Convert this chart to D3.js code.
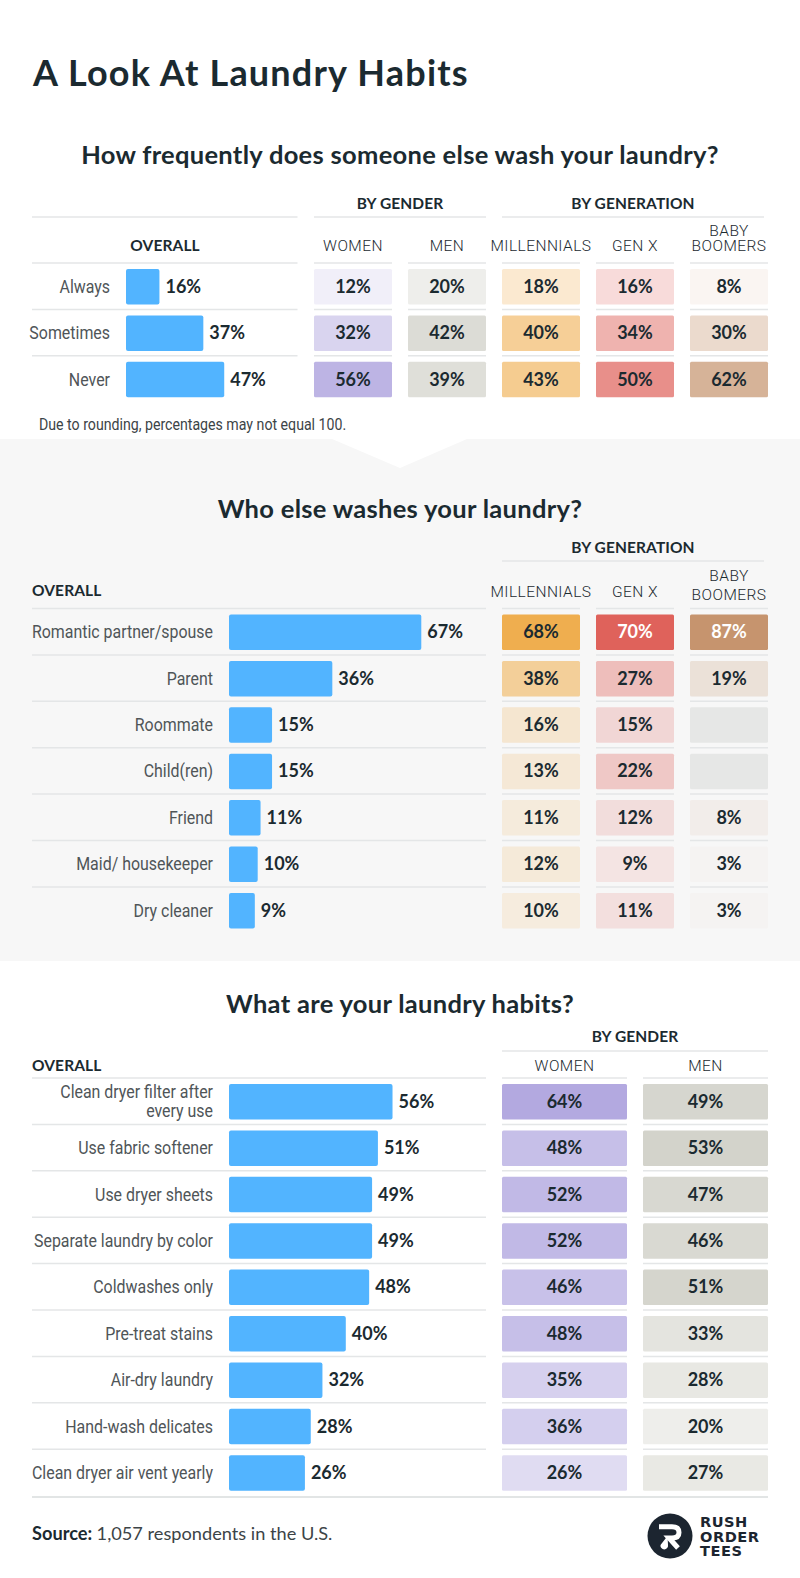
<!doctype html>
<html lang="en">
<head>
  <meta charset="utf-8">
  <title>A Look At Laundry Habits</title>
  <script src="https://cdnjs.cloudflare.com/ajax/libs/d3/7.8.5/d3.min.js"></script>
  <style>
    body { margin: 0; background: #fff; }
    svg { display: block; }
    .heading { font-family: Lato, sans-serif; font-weight: 700; fill: #1b2a30; }
    .group { font-family: Lato, sans-serif; font-weight: 700; font-size: 15.5px; fill: #1b2a30; letter-spacing: .1px; }
    .col { font-family: Roboto, sans-serif; font-weight: 300; font-size: 15.5px; fill: #1b2a30; letter-spacing: .45px; }
    .cat { font-family: Roboto, sans-serif; font-weight: 400; font-size: 18px; fill: #4f5558; }
    .val { font-family: Lato, sans-serif; font-weight: 700; font-size: 18px; fill: #1b2a30; }
  </style>
</head>
<body>
  <svg width="800" height="1578" id="svg"></svg>

<script type="text/javascript">

	// how frequently
	var freqCats = ['Always', 'Sometimes', 'Never'];
	var freqOverall = [16, 37, 47];
	var freqWomen = [12, 32, 56];
	var freqMen = [20, 42, 39];
	var freqMill = [18, 40, 43];
	var freqGenX = [16, 34, 50];
	var freqBoomers = [8, 30, 62];

	// who else
	var whoCats = ['Romantic partner/spouse', 'Parent', 'Roommate', 'Child(ren)', 'Friend', 'Maid/ housekeeper', 'Dry cleaner'];
	var whoOverall = [67, 36, 15, 15, 11, 10, 9];
	var whoMill = [68, 38, 16, 13, 11, 12, 10];
	var whoGenX = [70, 27, 15, 22, 12, 9, 11];
	var whoBoomers = [87, 19, null, null, 8, 3, 3];

	// habits
	var habitCats = [['Clean dryer filter after', 'every use'], ['Use fabric softener'], ['Use dryer sheets'], ['Separate laundry by color'], ['Coldwashes only'], ['Pre-treat stains'], ['Air-dry laundry'], ['Hand-wash delicates'], ['Clean dryer air vent yearly']];
	var habitOverall = [56, 51, 49, 49, 48, 40, 32, 28, 26];
	var habitWomen = [64, 48, 52, 52, 46, 48, 35, 36, 26];
	var habitMen = [49, 53, 47, 46, 51, 33, 28, 20, 27];

	var svg = d3.select('#svg');
	var rowH = 46.4, cellTop = 6, cellH = 35.5;
	var ruleColor = '#e4e6e7';
	var narrow = 0.885; // the labels are a condensed face, Roboto squeezed comes close

	// every column is one hue, the value sets how strong it is
	var hue = {
		women: { color: '#b3a9e0', opacity: d3.scaleLinear().domain([0, 64]).range([0, 1]) },
		men: { color: '#d3d3cb', opacity: d3.scaleLinear().domain([0, 53]).range([0, 1]) },
		mill: { color: '#efae4f', opacity: d3.scaleLinear().domain([0, 68]).range([0, 1]) },
		genx: { color: '#df625b', opacity: d3.scaleLinear().domain([0, 70]).range([0, 1]) },
		boomers: { color: '#c6946e', opacity: d3.scaleLinear().domain([0, 87]).range([0, 1]) }
	};

	// background band with the notch under the first table
	svg.append('rect').attr('x', 0).attr('y', 439).attr('width', 800).attr('height', 522).attr('fill', '#f7f7f7');
	svg.append('path').attr('d', 'M332,439L400,468L467,439Z').attr('fill', '#fff');

	function rule(x1, x2, y, color, w) {
		svg.append('line').attr('x1', x1).attr('x2', x2).attr('y1', y).attr('y2', y)
			.attr('stroke', color || ruleColor).attr('stroke-width', w || 1.5);
	}

	function heading(t, x, y, size, spacing, anchor) {
		svg.append('text').attr('class', 'heading').attr('x', x).attr('y', y)
			.attr('text-anchor', anchor || 'middle').style('font-size', size + 'px')
			.style('letter-spacing', spacing + 'px').text(t);
	}

	function group(t, x, y) {
		svg.append('text').attr('class', 'group').attr('x', x).attr('y', y).attr('text-anchor', 'middle').text(t);
	}

	function drawPanel(p) {
		var n = p.cats.length;
		var y = d3.scaleBand().domain(d3.range(n)).range([p.top, p.top + n * rowH]);
		var x = d3.scaleLinear().domain([0, 100]).range([p.barX, p.barX + p.barMax]);
		var cx = d3.scaleBand().domain(p.cols.map(function(c) { return c.name; }))
			.range([p.colX0, 768]).paddingInner(16 / p.colStep);

		// rules
		d3.range(n).forEach(function(i) {
			rule(32, p.ruleEnd, y(i));
			p.cols.forEach(function(c) {
				rule(cx(c.name), cx(c.name) + cx.bandwidth(), y(i));
			});
		});

		// overall bars
		var rows = svg.append('g').selectAll('g').data(p.overall).enter().append('g');
		rows.append('rect')
			.attr('x', p.barX)
			.attr('y', function(d, i) { return y(i) + cellTop; })
			.attr('width', function(d) { return x(d) - p.barX; })
			.attr('height', cellH)
			.attr('rx', 2)
			.attr('fill', '#52b4ff');
		rows.append('text')
			.attr('class', 'val')
			.attr('x', function(d) { return x(d) + 6; })
			.attr('y', function(d, i) { return y(i) + cellTop + cellH / 2 + 6; })
			.text(function(d) { return d + '%'; });

		// category labels
		rows.each(function(d, i) {
			var lines = [].concat(p.cats[i]);
			var mid = y(i) + cellTop + cellH / 2;
			d3.select(this).selectAll('text.cat').data(lines).enter().append('text')
				.attr('class', 'cat')
				.attr('text-anchor', 'end')
				.attr('transform', function(l, k) {
					return 'translate(' + p.catX + ',' + (mid + 6 + (k - (lines.length - 1) / 2) * 19) + ') scale(' + narrow + ',1)';
				})
				.text(function(l) { return l; });
		});

		// value cells
		p.cols.forEach(function(c) {
			var g = svg.append('g').selectAll('g').data(c.values).enter().append('g');
			g.append('rect').attr('x', cx(c.name)).attr('y', function(d, i) { return y(i) + cellTop; })
				.attr('width', cx.bandwidth()).attr('height', cellH).attr('rx', 1.5)
				.attr('fill', function(d) { return d === null ? '#e6e7e6' : hue[c.name].color; })
				.attr('fill-opacity', function(d) { return d === null ? 1 : hue[c.name].opacity(d); });
			g.append('text').attr('class', 'val').attr('text-anchor', 'middle')
				.attr('x', cx(c.name) + cx.bandwidth() / 2)
				.attr('y', function(d, i) { return y(i) + cellTop + cellH / 2 + 6; })
				.style('fill', function(d) { return d >= 70 ? '#fff' : null; })
				.text(function(d) { return d === null ? '' : d + '%'; });

			// column header
			var head = svg.append('text').attr('class', 'col').attr('text-anchor', 'middle');
			c.label.forEach(function(l, k) {
				head.append('tspan').attr('x', cx(c.name) + cx.bandwidth() / 2)
					.attr('y', p.top - p.headGap - (c.label.length - 1 - k) * p.headLead + (c.label.length > 1 ? p.headDrop : 0)).text(l);
			});
		});
	}

	heading('A Look At Laundry Habits', 33, 86, 36, 1.2, 'start');

	// panel 1
	heading('How frequently does someone else wash your laundry?', 400, 164, 25.5, 0.3);
	group('BY GENDER', 400, 209);
	group('BY GENERATION', 633, 209);
	rule(32, 297.5, 217); rule(314, 486, 217); rule(502, 764, 217);
	group('OVERALL', 165, 251);
	drawPanel({
		cats: freqCats, overall: freqOverall, top: 263, barX: 126, barMax: 209, catX: 110, ruleEnd: 297.5,
		colX0: 314, colStep: 94, headGap: 12, headLead: 15, headDrop: 0,
		cols: [
			{ name: 'women', label: ['WOMEN'], values: freqWomen },
			{ name: 'men', label: ['MEN'], values: freqMen },
			{ name: 'mill', label: ['MILLENNIALS'], values: freqMill },
			{ name: 'genx', label: ['GEN X'], values: freqGenX },
			{ name: 'boomers', label: ['BABY', 'BOOMERS'], values: freqBoomers }
		]
	});
	svg.append('text').attr('transform', 'translate(39,430) scale(' + narrow + ',1)').style('font-family', 'Roboto, sans-serif')
		.style('font-size', '16px').attr('fill', '#3c4447').text('Due to rounding, percentages may not equal 100.');

	// panel 2
	heading('Who else washes your laundry?', 400, 518, 25.5, 0.3);
	group('BY GENERATION', 633, 553);
	rule(502, 764, 561);
	svg.append('text').attr('class', 'group').attr('x', 32).attr('y', 596).text('OVERALL');
	drawPanel({
		cats: whoCats, overall: whoOverall, top: 608.5, barX: 229, barMax: 287, catX: 213, ruleEnd: 486,
		colX0: 502, colStep: 94, headGap: 12, headLead: 19, headDrop: 3.5,
		cols: [
			{ name: 'mill', label: ['MILLENNIALS'], values: whoMill },
			{ name: 'genx', label: ['GEN X'], values: whoGenX },
			{ name: 'boomers', label: ['BABY', 'BOOMERS'], values: whoBoomers }
		]
	});

	// panel 3
	heading('What are your laundry habits?', 400, 1013, 25.5, 0.3);
	group('BY GENDER', 635, 1042);
	rule(502, 768, 1051);
	svg.append('text').attr('class', 'group').attr('x', 32).attr('y', 1071).text('OVERALL');
	drawPanel({
		cats: habitCats, overall: habitOverall, top: 1078, barX: 229, barMax: 292, catX: 213, ruleEnd: 486,
		colX0: 502, colStep: 141, headGap: 7, headLead: 15, headDrop: 0,
		cols: [
			{ name: 'women', label: ['WOMEN'], values: habitWomen },
			{ name: 'men', label: ['MEN'], values: habitMen }
		]
	});
	rule(32, 768, 1497, '#d9dcdd', 1.5);

	// source
	var src = svg.append('text').attr('x', 32).attr('y', 1540).style('font-family', 'Lato, sans-serif').style('font-size', '18.2px').attr('fill', '#1b2a30');
	src.append('tspan').style('font-weight', 700).text('Source: ');
	src.append('tspan').style('fill', '#3c4447').text('1,057 respondents in the U.S.');

	// logo
	var logo = svg.append('g').attr('transform', 'translate(670,1536)');
	logo.append('circle').attr('r', 22.5).attr('fill', '#1c2530');
	logo.append('path').attr('d', 'M-11,-9.3L2,-9.3Q9,-9.3 9,-3.5Q9,2 2,2L-1,2L8,12').attr('fill', 'none')
		.attr('stroke', '#fff').attr('stroke-width', 5);
	logo.append('path').attr('d', 'M-2.5,0L-2,9A3.8,3.8 0 1 1 -9.5,9Z').attr('fill', '#fff');

	var wordmark = svg.append('text').style('font-family', 'DejaVu Sans, sans-serif')
		.style('font-weight', 700).style('font-size', '14.6px').style('letter-spacing', '.5px').attr('fill', '#1c2530');
	['RUSH', 'ORDER', 'TEES'].forEach(function(t, i) {
		wordmark.append('tspan').attr('x', 700).attr('y', 1527 + i * 14.6).text(t);
	});

</script>
</body>
</html>
